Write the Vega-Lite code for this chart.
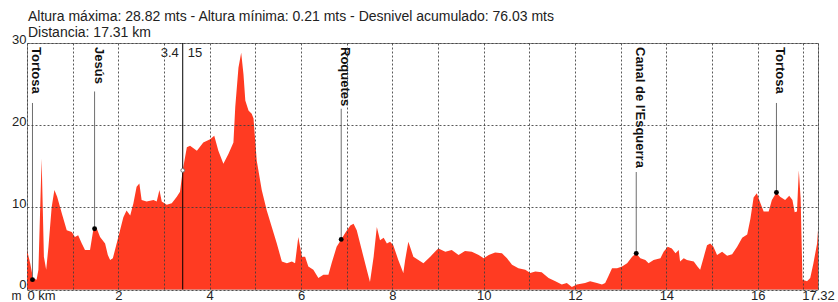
{
  "$schema": "https://vega.github.io/schema/vega-lite/v6.json",
  "width": 791,
  "height": 246.5,
  "autosize": {"type": "none"},
  "padding": {"left": 27, "top": 43, "right": 20, "bottom": 12},
  "background": "white",
  "config": {
    "font": "Liberation Sans",
    "view": {"stroke": "#8c8c8c", "strokeWidth": 1}
  },
  "title": {
    "text": ["Altura máxima: 28.82 mts - Altura mínima: 0.21 mts - Desnivel acumulado: 76.03 mts", "Distancia: 17.31 km"],
    "anchor": "start",
    "frame": "group",
    "fontSize": 14,
    "fontWeight": "normal",
    "color": "#222222",
    "lineHeight": 16,
    "offset": -7,
    "dx": 1
  },
  "datasets": {
    "profile": [
      {"km":0.00,"elev":4.8},{"km":0.07,"elev":3.2},{"km":0.13,"elev":1.4},{"km":0.21,"elev":1.2},{"km":0.25,"elev":2.4},
      {"km":0.32,"elev":15.9},{"km":0.37,"elev":4.0},{"km":0.42,"elev":2.4},{"km":0.47,"elev":5.2},{"km":0.54,"elev":10.0},
      {"km":0.60,"elev":12.1},{"km":0.66,"elev":11.3},{"km":0.76,"elev":9.3},{"km":0.87,"elev":7.2},{"km":0.98,"elev":7.0},
      {"km":1.05,"elev":6.4},{"km":1.12,"elev":6.6},{"km":1.20,"elev":5.6},{"km":1.27,"elev":4.8},{"km":1.38,"elev":4.8},
      {"km":1.45,"elev":7.2},{"km":1.53,"elev":7.4},{"km":1.60,"elev":6.4},{"km":1.71,"elev":5.6},{"km":1.77,"elev":4.2},
      {"km":1.82,"elev":3.6},{"km":1.88,"elev":3.8},{"km":2.00,"elev":6.4},{"km":2.11,"elev":8.8},{"km":2.18,"elev":9.6},
      {"km":2.26,"elev":9.0},{"km":2.33,"elev":10.5},{"km":2.40,"elev":12.5},{"km":2.46,"elev":12.9},{"km":2.51,"elev":10.9},
      {"km":2.62,"elev":10.7},{"km":2.77,"elev":10.9},{"km":2.84,"elev":10.7},{"km":2.90,"elev":12.1},{"km":2.95,"elev":10.7},
      {"km":3.06,"elev":10.3},{"km":3.17,"elev":10.5},{"km":3.28,"elev":11.3},{"km":3.35,"elev":11.9},{"km":3.41,"elev":14.5},
      {"km":3.50,"elev":17.3},{"km":3.57,"elev":17.5},{"km":3.72,"elev":16.9},{"km":3.86,"elev":17.9},{"km":4.01,"elev":18.3},
      {"km":4.10,"elev":18.7},{"km":4.19,"elev":16.9},{"km":4.30,"elev":15.3},{"km":4.41,"elev":16.5},{"km":4.52,"elev":17.9},
      {"km":4.56,"elev":22.2},{"km":4.63,"elev":27.0},{"km":4.69,"elev":28.8},{"km":4.74,"elev":26.2},{"km":4.78,"elev":23.0},
      {"km":4.85,"elev":21.8},{"km":4.92,"elev":21.4},{"km":4.96,"elev":20.8},{"km":5.03,"elev":15.7},{"km":5.14,"elev":12.1},
      {"km":5.25,"elev":9.6},{"km":5.36,"elev":7.6},{"km":5.47,"elev":5.6},{"km":5.58,"elev":3.4},{"km":5.69,"elev":3.2},
      {"km":5.80,"elev":3.4},{"km":5.87,"elev":3.2},{"km":5.94,"elev":6.4},{"km":6.02,"elev":4.0},{"km":6.09,"elev":4.0},
      {"km":6.16,"elev":2.8},{"km":6.27,"elev":2.4},{"km":6.38,"elev":1.4},{"km":6.49,"elev":1.8},{"km":6.60,"elev":1.8},
      {"km":6.67,"elev":3.2},{"km":6.78,"elev":5.2},{"km":6.88,"elev":6.1},{"km":6.97,"elev":6.9},{"km":7.08,"elev":7.8},
      {"km":7.15,"elev":8.0},{"km":7.22,"elev":7.2},{"km":7.33,"elev":4.8},{"km":7.44,"elev":2.4},{"km":7.51,"elev":0.9},
      {"km":7.59,"elev":4.0},{"km":7.66,"elev":7.6},{"km":7.73,"elev":6.0},{"km":7.81,"elev":6.3},{"km":7.88,"elev":5.6},
      {"km":7.95,"elev":5.8},{"km":8.02,"elev":5.4},{"km":8.13,"elev":3.6},{"km":8.24,"elev":2.0},{"km":8.28,"elev":3.6},
      {"km":8.35,"elev":5.8},{"km":8.46,"elev":4.0},{"km":8.57,"elev":3.6},{"km":8.68,"elev":3.2},{"km":8.83,"elev":4.0},
      {"km":8.97,"elev":4.8},{"km":9.01,"elev":5.0},{"km":9.16,"elev":4.6},{"km":9.30,"elev":4.8},{"km":9.45,"elev":4.2},
      {"km":9.59,"elev":4.7},{"km":9.74,"elev":4.6},{"km":9.89,"elev":4.2},{"km":10.00,"elev":3.8},{"km":10.11,"elev":4.2},
      {"km":10.25,"elev":4.5},{"km":10.40,"elev":4.4},{"km":10.51,"elev":3.8},{"km":10.62,"elev":3.0},{"km":10.76,"elev":2.6},
      {"km":10.91,"elev":2.4},{"km":11.02,"elev":2.0},{"km":11.13,"elev":2.2},{"km":11.27,"elev":2.1},{"km":11.42,"elev":1.4},
      {"km":11.57,"elev":1.0},{"km":11.71,"elev":0.6},{"km":11.82,"elev":0.8},{"km":11.93,"elev":0.3},{"km":12.04,"elev":0.6},
      {"km":12.22,"elev":0.8},{"km":12.33,"elev":1.0},{"km":12.48,"elev":0.8},{"km":12.59,"elev":0.6},{"km":12.66,"elev":0.8},
      {"km":12.73,"elev":1.6},{"km":12.81,"elev":2.6},{"km":12.92,"elev":2.6},{"km":13.03,"elev":2.8},{"km":13.14,"elev":3.2},
      {"km":13.25,"elev":4.0},{"km":13.34,"elev":4.4},{"km":13.43,"elev":3.8},{"km":13.54,"elev":3.6},{"km":13.61,"elev":3.2},
      {"km":13.72,"elev":3.6},{"km":13.87,"elev":3.8},{"km":13.94,"elev":4.6},{"km":14.03,"elev":5.2},{"km":14.12,"elev":5.0},
      {"km":14.20,"elev":4.4},{"km":14.27,"elev":4.8},{"km":14.30,"elev":3.4},{"km":14.38,"elev":3.8},{"km":14.45,"elev":3.6},
      {"km":14.60,"elev":3.4},{"km":14.68,"elev":2.8},{"km":14.74,"elev":2.4},{"km":14.82,"elev":4.0},{"km":14.89,"elev":5.4},
      {"km":14.96,"elev":5.6},{"km":15.03,"elev":5.2},{"km":15.11,"elev":4.2},{"km":15.22,"elev":4.6},{"km":15.33,"elev":4.1},
      {"km":15.44,"elev":4.3},{"km":15.55,"elev":5.2},{"km":15.66,"elev":6.3},{"km":15.77,"elev":6.7},{"km":15.84,"elev":8.6},
      {"km":15.91,"elev":11.2},{"km":15.98,"elev":11.7},{"km":16.06,"elev":10.5},{"km":16.13,"elev":9.5},{"km":16.24,"elev":9.5},
      {"km":16.31,"elev":10.9},{"km":16.41,"elev":11.8},{"km":16.49,"elev":11.3},{"km":16.60,"elev":10.9},{"km":16.69,"elev":11.4},
      {"km":16.76,"elev":10.9},{"km":16.81,"elev":9.4},{"km":16.86,"elev":9.5},{"km":16.90,"elev":14.5},{"km":16.94,"elev":11.0},
      {"km":16.98,"elev":1.2},{"km":17.08,"elev":1.0},{"km":17.15,"elev":1.4},{"km":17.22,"elev":3.2},{"km":17.30,"elev":5.6},
      {"km":17.32,"elev":7.2}
    ],
    "markers": [
      {"km":0.12,"elev":1.2,"name":"Tortosa"},
      {"km":1.48,"elev":7.4,"name":"Jesús"},
      {"km":6.88,"elev":6.1,"name":"Roquetes"},
      {"km":13.34,"elev":4.4,"name":"Canal de l'Esquerra"},
      {"km":16.41,"elev":11.8,"name":"Tortosa"}
    ],
    "cursor": [
      {"km":3.41,"elev":14.5,"left":"3.4","right":"15"}
    ]
  },
  "encoding": {
    "x": {
      "field": "km",
      "type": "quantitative",
      "scale": {"domain": [0, 17.32], "nice": false, "zero": false},
      "axis": {
        "values": [0,1,2,3,4,5,6,7,8,9,10,11,12,13,14,15,16,17,17.32],
        "labelExpr": "datum.value == 0 ? '0 km' : (datum.value == 17.32 ? '17.32' : (datum.value % 2 == 0 ? datum.label : ''))",
        "labelAlign": {"condition": {"test": "datum.value == 0", "value": "left"}, "value": "center"},
        "grid": true,
        "gridDash": [2, 2],
        "gridColor": "#3c3c3c",
        "gridOpacity": 0.85,
        "ticks": false,
        "domain": false,
        "labelPadding": 0,
        "labelFontSize": 13,
        "labelColor": "#222222",
        "labelFlush": false,
        "labelOverlap": false,
        "title": null,
        "zindex": 1
      }
    },
    "y": {
      "field": "elev",
      "type": "quantitative",
      "scale": {"domain": [0, 30], "nice": false, "zero": true},
      "axis": {
        "values": [0, 10, 20, 30],
        "grid": true,
        "gridDash": [2, 2],
        "gridColor": "#3c3c3c",
        "gridOpacity": 0.85,
        "ticks": false,
        "domain": false,
        "labelPadding": 1,
        "labelFontSize": 13,
        "labelColor": "#222222",
        "labelBaseline": "middle",
        "labelOffset": {"condition": {"test": "datum.value == 0", "value": -5.5}, "value": -4},
        "title": "m",
        "titleAngle": 0,
        "titleX": -11,
        "titleY": 252,
        "titleAlign": "center",
        "titleBaseline": "middle",
        "titleFontSize": 12,
        "titleFontWeight": "normal",
        "titleColor": "#222222",
        "zindex": 1
      }
    }
  },
  "layer": [
    {
      "data": {"name": "profile"},
      "mark": {"type": "area", "color": "#ff3b22", "interpolate": "linear"}
    },
    {
      "data": {"name": "markers"},
      "transform": [{"calculate": "27.6 - 0.7 * length(datum.name)", "as": "top"}],
      "mark": {"type": "rule", "color": "#6e6e6e", "strokeWidth": 1},
      "encoding": {"y2": {"field": "top"}}
    },
    {
      "data": {"name": "markers"},
      "mark": {"type": "point", "filled": true, "color": "#000000", "size": 24, "opacity": 1}
    },
    {
      "data": {"name": "markers"},
      "mark": {"type": "text", "angle": 90, "align": "left", "baseline": "alphabetic", "dx": 4, "dy": 0, "fontSize": 13, "fontWeight": "bold", "color": "#111111"},
      "encoding": {"y": {"datum": 30}, "text": {"field": "name"}}
    },
    {
      "data": {"name": "cursor"},
      "mark": {"type": "rule", "color": "#000000", "strokeWidth": 1},
      "encoding": {"y": {"datum": 0}, "y2": {"datum": 30}}
    },
    {
      "data": {"name": "cursor"},
      "mark": {"type": "point", "filled": false, "fill": "#ffffff", "stroke": "#707070", "strokeWidth": 1, "size": 14, "opacity": 1}
    },
    {
      "data": {"name": "cursor"},
      "mark": {"type": "text", "align": "right", "baseline": "middle", "dx": -4, "dy": 10, "fontSize": 13, "color": "#222222"},
      "encoding": {"y": {"datum": 30}, "text": {"field": "left"}}
    },
    {
      "data": {"name": "cursor"},
      "mark": {"type": "text", "align": "left", "baseline": "middle", "dx": 5, "dy": 10, "fontSize": 13, "color": "#222222"},
      "encoding": {"y": {"datum": 30}, "text": {"field": "right"}}
    }
  ]
}
